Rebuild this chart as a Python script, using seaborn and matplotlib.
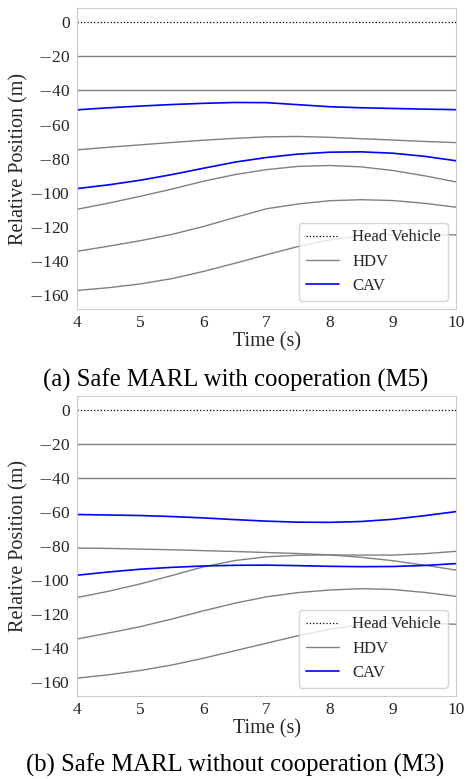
import matplotlib
matplotlib.use("Agg")
import matplotlib.pyplot as plt
import seaborn as sns

# =============================================================================
# DATA
# =============================================================================
time_s = [4, 4.5, 5, 5.5, 6, 6.5, 7, 7.5, 8, 8.5, 9, 9.5, 10]

head_pos = [0] * 13
hdv1_pos = [-20] * 13
hdv2_pos = [-40] * 13

# (a) Safe MARL with cooperation (M5)
m5_cav1 = [-51.4, -50.2, -49.2, -48.3, -47.6, -47.1, -47.2, -48.4, -49.6, -50.2, -50.6, -51.0, -51.3]
m5_hdv3 = [-74.8, -73.3, -71.9, -70.5, -69.2, -68.1, -67.2, -67.0, -67.5, -68.3, -69.1, -69.9, -70.6]
m5_cav2 = [-97.5, -95.3, -92.6, -89.3, -85.6, -82.0, -79.3, -77.3, -76.2, -76.0, -76.8, -78.6, -81.2]
m5_hdv4 = [-109.6, -106.0, -102.0, -97.8, -93.2, -89.3, -86.4, -84.5, -84.0, -84.8, -86.9, -90.0, -93.6]
m5_hdv5 = [-134.2, -131.2, -128.0, -124.3, -119.7, -114.4, -109.3, -106.5, -104.6, -104.0, -104.5, -106.1, -108.4]
m5_hdv6 = [-157.1, -155.5, -153.3, -150.2, -146.0, -141.2, -136.2, -131.4, -127.5, -125.2, -124.4, -124.3, -124.6]

# (b) Safe MARL without cooperation (M3)
m3_cav1 = [-61.5, -61.8, -62.1, -62.7, -63.5, -64.5, -65.4, -66.0, -66.1, -65.6, -64.3, -62.2, -59.8]
m3_hdv3 = [-81.2, -81.4, -81.8, -82.2, -82.7, -83.2, -83.8, -84.4, -85.2, -86.6, -88.6, -91.2, -94.1]
m3_cav2 = [-97.1, -95.2, -93.6, -92.5, -91.7, -91.3, -91.2, -91.5, -91.9, -92.1, -92.0, -91.4, -90.3]
m3_hdv4 = [-110.2, -106.5, -102.2, -97.3, -92.2, -88.5, -86.3, -85.4, -85.2, -85.3, -85.3, -84.5, -83.1]
m3_hdv5 = [-134.5, -131.0, -127.3, -122.8, -118.0, -113.5, -109.8, -107.3, -105.8, -105.0, -105.5, -107.2, -109.5]
m3_hdv6 = [-157.5, -155.5, -153.0, -149.8, -145.8, -141.4, -137.0, -132.6, -128.8, -126.2, -125.0, -125.2, -125.9]

y_ticks = [0, -20, -40, -60, -80, -100, -120, -140, -160]
# wide (LaTeX style) minus sign, digits in the serif text font
y_tick_labels = ['0', '$-$20', '$-$40', '$-$60', '$-$80', '$-$100', '$-$120', '$-$140', '$-$160']
x_ticks = [4, 5, 6, 7, 8, 9, 10]

panels = [
    {"caption": "(a) Safe MARL with cooperation (M5)",
     "hdv": [hdv1_pos, hdv2_pos, m5_hdv3, m5_hdv4, m5_hdv5, m5_hdv6],
     "cav": [m5_cav1, m5_cav2]},
    {"caption": "(b) Safe MARL without cooperation (M3)",
     "hdv": [hdv1_pos, hdv2_pos, m3_hdv3, m3_hdv4, m3_hdv5, m3_hdv6],
     "cav": [m3_cav1, m3_cav2]},
]

# =============================================================================
# PLOTTING
# =============================================================================
sns.set_style("whitegrid", {"axes.grid": False})
plt.rcParams['font.family'] = ['Liberation Serif', 'DejaVu Serif']
plt.rcParams['mathtext.fontset'] = 'cm'

TICK_SIZE = 12.5
LABEL_SIZE = 14.5
LEGEND_SIZE = 12
CAPTION_SIZE = 17.8

fig = plt.figure(figsize=(4.71, 7.79), dpi=100)
axes_rects = [[0.164, 0.6033, 0.804, 0.386], [0.164, 0.1065, 0.804, 0.3851]]
caption_y = [1 - 380 / 779, 1 - 765 / 779]

for panel, rect, cy in zip(panels, axes_rects, caption_y):
    ax = fig.add_axes(rect)

    sns.lineplot(x=time_s, y=head_pos, ax=ax, color='black', lw=0.9,
                 linestyle=':', label='Head Vehicle')
    for i, vals in enumerate(panel["hdv"]):
        sns.lineplot(x=time_s, y=vals, ax=ax, color='gray', lw=1.0,
                     label='HDV' if i == 0 else None)
    for i, vals in enumerate(panel["cav"]):
        sns.lineplot(x=time_s, y=vals, ax=ax, color='blue', lw=1.2,
                     label='CAV' if i == 0 else None)

    ax.set_xlim(4, 10)
    ax.set_ylim(-168, 8)
    ax.set_xticks(x_ticks)
    ax.set_yticks(y_ticks, labels=y_tick_labels)
    ax.tick_params(axis='both', labelsize=TICK_SIZE)
    ax.tick_params(axis='x', pad=1)
    ax.tick_params(axis='y', pad=1.5)
    ax.set_xlabel('Time (s)', fontsize=LABEL_SIZE, labelpad=0.5)
    ax.set_ylabel('Relative Position (m)', fontsize=LABEL_SIZE)
    ax.yaxis.set_label_coords(-0.13, 0.5)
    ax.legend(loc='lower right', fontsize=LEGEND_SIZE)

    fig.text(0.5, cy, panel["caption"], ha='center', va='center',
             fontsize=CAPTION_SIZE, color='black')

fig.savefig("out.png", dpi=100)
plt.close(fig)
